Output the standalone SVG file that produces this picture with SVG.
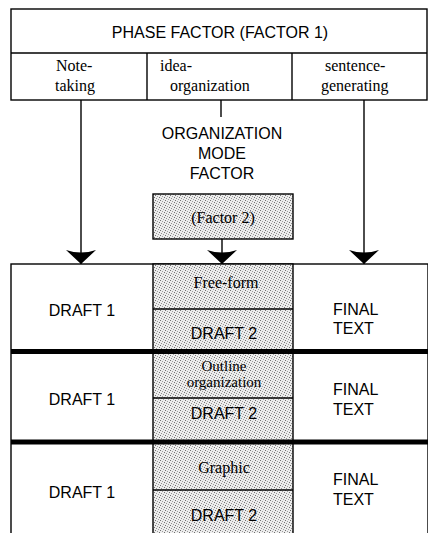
<svg xmlns="http://www.w3.org/2000/svg" width="428" height="533" viewBox="0 0 428 533">
<defs>
<pattern id="stip" width="5" height="5" patternUnits="userSpaceOnUse">
<rect width="5" height="5" fill="#ededed"/>
<rect x="0" y="0" width="1" height="1" fill="#707070"/>
<rect x="2" y="1" width="1" height="1" fill="#a0a0a0"/>
<rect x="4" y="2" width="1" height="1" fill="#707070"/>
<rect x="1" y="3" width="1" height="1" fill="#909090"/>
<rect x="3" y="4" width="1" height="1" fill="#a0a0a0"/>
</pattern>
<marker id="arr" viewBox="0 0 14 30" refX="14" refY="15" markerWidth="14" markerHeight="30" markerUnits="userSpaceOnUse" orient="auto">
<path d="M0,0 Q5,15 0,30 L14,15 Z" fill="#000"/>
</marker>
<style>
.ln{stroke:#000;stroke-width:1.4;fill:none}
.bx{stroke:#000;stroke-width:1.4;fill:#fff}
.sh{stroke:#000;stroke-width:1.4;fill:url(#stip)}
.thick{stroke:#000;stroke-width:5}
.cap{font-family:"Liberation Sans",Arial,sans-serif;font-size:16px;fill:#000}
.ser{font-family:"Liberation Serif","Times New Roman",serif;font-size:16px;fill:#000}
.sm{font-size:15px}
.c{text-anchor:middle}
</style>
</defs>
<g id="phase-factor">
<rect class="bx" x="11" y="9" width="416" height="91"/>
<line class="ln" x1="11" y1="53" x2="427" y2="53"/>
<line class="ln" x1="147" y1="53" x2="147" y2="100"/>
<line class="ln" x1="292" y1="53" x2="292" y2="100"/>
<text class="cap c" x="220" y="38">PHASE FACTOR (FACTOR 1)</text>
<text class="ser" x="56" y="71">Note-</text>
<text class="ser" x="55" y="91">taking</text>
<text class="ser" x="160" y="71">idea-</text>
<text class="ser" x="170" y="91">organization</text>
<text class="ser" x="325" y="71">sentence-</text>
<text class="ser" x="321" y="91">generating</text>
</g>
<g id="org-mode-label">
<text class="cap c" x="222" y="139">ORGANIZATION</text>
<text class="cap c" x="222" y="159">MODE</text>
<text class="cap c" x="222" y="179">FACTOR</text>
</g>
<g id="factor2">
<rect class="sh" x="153" y="194" width="140" height="45"/>
<text class="ser c" x="223" y="223">(Factor 2)</text>
</g>
<g id="connectors">
<line class="ln" x1="81" y1="100" x2="81" y2="264" marker-end="url(#arr)"/>
<line class="ln" x1="364" y1="100" x2="364" y2="264" marker-end="url(#arr)"/>
<line class="ln" x1="221" y1="100" x2="221" y2="117"/>
<line class="ln" x1="222" y1="239" x2="222" y2="264" marker-end="url(#arr)"/>
</g>
<g id="grid">
<rect class="bx" x="11" y="264" width="417" height="270"/>
<rect class="sh" x="153" y="264" width="140" height="270"/>
<line class="ln" x1="153" y1="309" x2="293" y2="309"/>
<line class="ln" x1="153" y1="398" x2="293" y2="398"/>
<line class="ln" x1="153" y1="490" x2="293" y2="490"/>
<line class="thick" x1="11" y1="351.5" x2="428" y2="351.5"/>
<line class="thick" x1="11" y1="442" x2="428" y2="442"/>
</g>
<g id="row1">
<text class="cap c" x="82" y="316">DRAFT 1</text>
<text class="ser c" x="226" y="288">Free-form</text>
<text class="cap c" x="224" y="339">DRAFT 2</text>
<text class="cap" x="333" y="315">FINAL</text>
<text class="cap" x="333" y="334">TEXT</text>
</g>
<g id="row2">
<text class="cap c" x="82" y="405">DRAFT 1</text>
<text class="ser sm c" x="224" y="371">Outline</text>
<text class="ser sm c" x="224" y="387">organization</text>
<text class="cap c" x="224" y="419">DRAFT 2</text>
<text class="cap" x="333" y="395">FINAL</text>
<text class="cap" x="333" y="415">TEXT</text>
</g>
<g id="row3">
<text class="cap c" x="82" y="498">DRAFT 1</text>
<text class="ser c" x="224" y="473">Graphic</text>
<text class="cap c" x="224" y="521">DRAFT 2</text>
<text class="cap" x="333" y="485">FINAL</text>
<text class="cap" x="333" y="505">TEXT</text>
</g>
</svg>
